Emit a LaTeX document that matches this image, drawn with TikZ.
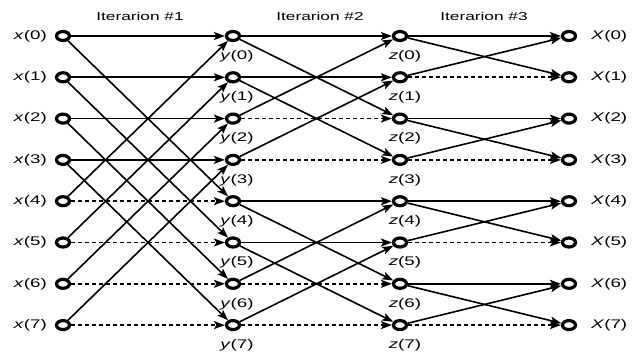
\documentclass[tikz,border=0pt]{standalone}
\usepackage{fontspec}
\setmainfont{Liberation Sans}[FakeStretch=1.5]
\usetikzlibrary{arrows.meta,shapes.geometric}
\begin{document}
\begin{tikzpicture}[x=1pt,y=-1pt,
  pt/.style={draw, ellipse, line width=3.2pt, minimum width=13pt, minimum height=9pt, inner sep=0pt},
  flow/.style={line width=1.6pt, -{Stealth[length=11pt,width=8pt,inset=2.5pt]}},
  zero/.style={flow, dash pattern=on 4pt off 3pt},
  lbl/.style={font=\fontsize{12.5}{14}\selectfont, inner sep=0pt},
  ttl/.style={font=\fontsize{11.5}{13}\selectfont, inner sep=0pt}]
\useasboundingbox (0,0) rectangle (638,352);

% stage titles
\node[ttl] (t1) at (140,16) {Iterarion \#1};
\node[ttl] (t2) at (320,16) {Iterarion \#2};
\node[ttl] (t3) at (484,16) {Iterarion \#3};

% the four columns of points with their labels
\foreach \i in {0,...,7}{
  \pgfmathsetmacro\r{36+41.3*\i}
  \node[pt] (x\i) at (63,\r) {};
  \node[pt] (y\i) at (233,\r) {};
  \node[pt] (z\i) at (400,\r) {};
  \node[pt] (o\i) at (569,\r) {};
  \node[lbl, anchor=east] (lx\i) at (47,\r) {\textit{x}(\i)};
  \node[lbl] (ly\i) at (237,\r+20) {\textit{y}(\i)};
  \node[lbl] (lz\i) at (405,\r+20) {\textit{z}(\i)};
  \node[lbl, anchor=west] (lo\i) at (591,\r) {\textit{X}(\i)};
}

% iteration 1: span 4
\foreach \i in {0,...,3}{
  \pgfmathtruncatemacro\j{\i+4}
  \draw[flow] (x\i) -- (y\i);
  \draw[flow] (x\i) -- (y\j);
  \draw[flow] (x\j) -- (y\i);
  \draw[zero] (x\j) -- (y\j);
}

% iteration 2: span 2
\foreach \i in {0,1,4,5}{
  \pgfmathtruncatemacro\j{\i+2}
  \draw[flow] (y\i) -- (z\i);
  \draw[flow] (y\i) -- (z\j);
  \draw[flow] (y\j) -- (z\i);
  \draw[zero] (y\j) -- (z\j);
}

% iteration 3: span 1
\foreach \i in {0,2,4,6}{
  \pgfmathtruncatemacro\j{\i+1}
  \draw[flow] (z\i) -- (o\i);
  \draw[flow] (z\i) -- (o\j);
  \draw[flow] (z\j) -- (o\i);
  \draw[zero] (z\j) -- (o\j);
}
\end{tikzpicture}
\end{document}
